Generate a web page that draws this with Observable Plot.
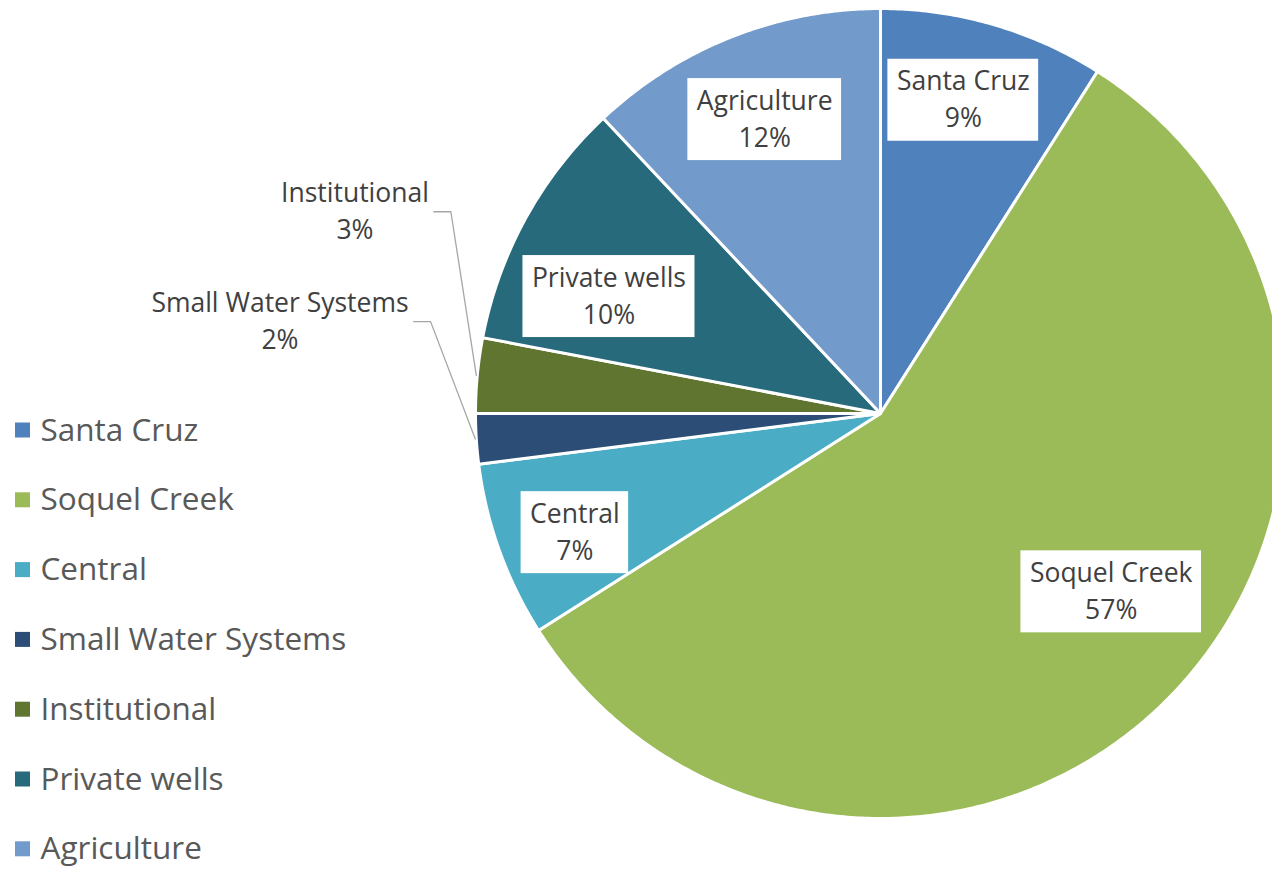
<!DOCTYPE html>
<html>
<head>
<meta charset="utf-8">
<script src="https://cdn.jsdelivr.net/npm/d3@7"></script>
<script src="https://cdn.jsdelivr.net/npm/@observablehq/plot@0.6"></script>
<style>
  html, body { margin: 0; padding: 0; background: #fff; }
  #chart svg { display: block; }
</style>
</head>
<body>
<div id="chart"></div>
<script>
// Groundwater pumping by user group (share of total, %)
const categories = ["Santa Cruz", "Soquel Creek", "Central", "Small Water Systems", "Institutional", "Private wells", "Agriculture"];
const shares = [9, 57, 7, 2, 3, 10, 12];
const colors = ["#4F81BD", "#9BBB59", "#4BACC6", "#2C4D75", "#5F7530", "#276A7C", "#729ACA"];

// Label placement around the pie: angular shift from the slice's mid-angle (degrees)
// and distance from the centre as a fraction of the radius.
const labelPlacement = {
  "Santa Cruz":          {shift: -1.4, radius: 0.80},
  "Soquel Creek":        {shift: -7.3, radius: 0.72},
  "Central":             {shift: -1.5, radius: 0.81},
  "Small Water Systems": {shift: 12.3, radius: 1.50, outside: true},
  "Institutional":       {shift: 15.6, radius: 1.39, outside: true},
  "Private wells":       {shift: -5.5, radius: 0.73},
  "Agriculture":         {shift: 0.1,  radius: 0.78}
};

const W = 1272, H = 872;
const cx = 880, cy = 413, R = 405;
const labelFont = "Open Sans, sans-serif";
const labelSize = 26.5;
const lineGap = 37;
const legendSize = 31.5;

const polar = (deg, rad) => {
  const a = deg * Math.PI / 180;
  return [cx + rad * Math.sin(a), cy - rad * Math.cos(a)];
};

// Slice angles, clockwise from 12 o'clock
const total = d3.sum(shares);
let acc = 0;
const slices = categories.map((name, i) => {
  const a0 = acc / total * 360;
  acc += shares[i];
  const a1 = acc / total * 360;
  return {name, value: shares[i], a0, a1, mid: (a0 + a1) / 2};
});

// Wedge outlines: centre, then points along the arc
const slicePoints = slices.flatMap(s => {
  const pts = [{name: s.name, x: cx, y: cy}];
  const n = Math.max(4, Math.ceil((s.a1 - s.a0) / 0.5));
  for (let k = 0; k <= n; ++k) {
    const [x, y] = polar(s.a0 + (s.a1 - s.a0) * k / n, R);
    pts.push({name: s.name, x, y});
  }
  return pts;
});

// Text widths for sizing the white label boxes
const ctx = document.createElement("canvas").getContext("2d");
ctx.font = `${labelSize}px ${labelFont}`;
const textWidth = t => ctx.measureText(t).width;

const labels = slices.map(s => {
  const p = labelPlacement[s.name];
  const [x, y] = polar(s.mid + p.shift, p.radius * R);
  const pct = `${s.value}%`;
  const w = Math.max(textWidth(s.name), textWidth(pct));
  return {...s, x, y, pct, w, outside: !!p.outside};
});
const inside = labels.filter(d => !d.outside);
const outside = labels.filter(d => d.outside);

const pad = 9;
const boxes = inside.map(d => ({
  x1: d.x - d.w / 2 - pad, x2: d.x + d.w / 2 + pad,
  y1: d.y - lineGap - 4, y2: d.y + lineGap + 4
}));

// Leader lines from the outside labels to their slices
const leaders = outside.flatMap(d => {
  const start = [d.x + d.w / 2 + 5, d.y];
  const elbow = [start[0] + 17, d.y];
  const end = polar(d.mid, R + 1);
  return [start, elbow, end].map(([x, y]) => ({name: d.name, x, y}));
});

const legend = categories.map((name, i) => ({name, i}));
const legendY = i => 430 + i * 69.8;

const chart = Plot.plot({
  width: W,
  height: H,
  margin: 0,
  x: {domain: [0, W], range: [0, W], axis: null},
  y: {domain: [0, H], range: [0, H], axis: null},
  color: {domain: categories, range: colors},
  style: {background: "#fff"},
  marks: [
    Plot.line(slicePoints, {
      x: "x", y: "y", z: "name", fill: "name",
      stroke: "#fff", strokeWidth: 3, strokeLinejoin: "round", curve: "linear-closed"
    }),
    Plot.rect(boxes, {x1: "x1", x2: "x2", y1: "y1", y2: "y2", fill: "#fff"}),
    Plot.line(leaders, {x: "x", y: "y", z: "name", stroke: "#a6a6a6", strokeWidth: 1.3}),
    Plot.text(labels, {
      x: "x", y: (d) => d.y - lineGap / 2, text: "name",
      fontFamily: labelFont, fontSize: labelSize, fill: "#404040"
    }),
    Plot.text(labels, {
      x: "x", y: (d) => d.y + lineGap / 2, text: "pct",
      fontFamily: labelFont, fontSize: labelSize, fill: "#404040"
    }),
    Plot.rect(legend, {
      x1: 15, x2: 30,
      y1: d => legendY(d.i) - 7.5, y2: d => legendY(d.i) + 7.5,
      fill: "name"
    }),
    Plot.text(legend, {
      x: 40, y: d => legendY(d.i), text: "name", textAnchor: "start",
      fontFamily: labelFont, fontSize: legendSize, fill: "#595959"
    })
  ]
});

document.getElementById("chart").append(chart);
</script>
</body>
</html>
